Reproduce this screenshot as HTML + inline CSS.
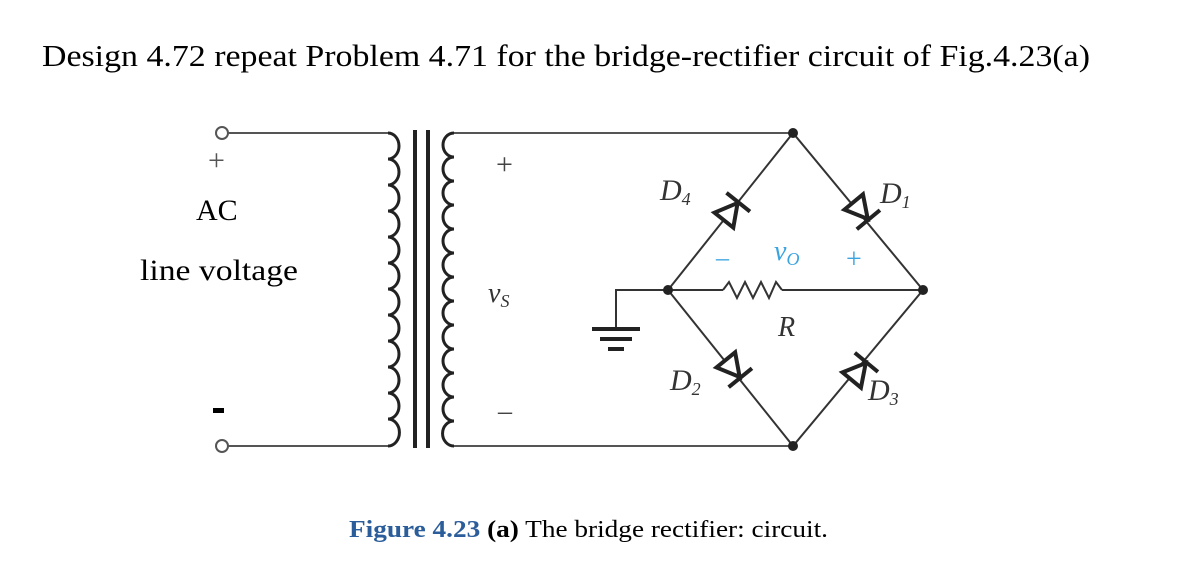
<!DOCTYPE html>
<html><head><meta charset="utf-8"><style>
body{margin:0;background:#fff;}
svg{display:block}
</style></head><body>
<svg width="1180" height="580" viewBox="0 0 1180 580" xmlns="http://www.w3.org/2000/svg" font-family="Liberation Serif, serif">
<text x="42" y="66" font-size="31" fill="#000" textLength="1048" lengthAdjust="spacingAndGlyphs">Design 4.72 repeat Problem 4.71 for the bridge-rectifier circuit of Fig.4.23(a)</text>
<g stroke="#555" stroke-width="2" fill="none">
<circle cx="222" cy="133" r="6" fill="#fff"/>
<circle cx="222" cy="446" r="6" fill="#fff"/>
<line x1="228" y1="133" x2="388" y2="133"/>
<line x1="228" y1="446" x2="388" y2="446"/>
<line x1="454" y1="133" x2="793" y2="133"/>
<line x1="454" y1="446" x2="793" y2="446"/>
</g>
<g stroke="#222" stroke-width="3" fill="none">
<path d="M388 133 a11 13 0 0 1 0 26 a11 13 0 0 1 0 26 a11 13 0 0 1 0 26 a11 13 0 0 1 0 26 a11 13 0 0 1 0 26 a11 13 0 0 1 0 26 a11 13 0 0 1 0 26 a11 13 0 0 1 0 26 a11 13 0 0 1 0 26 a11 13 0 0 1 0 26 a11 13 0 0 1 0 26 a11 13 0 0 1 0 27"/>
<path d="M454 133 a11 12 0 0 0 0 24 a11 12 0 0 0 0 24 a11 12 0 0 0 0 24 a11 12 0 0 0 0 24 a11 12 0 0 0 0 24 a11 12 0 0 0 0 24 a11 12 0 0 0 0 24 a11 12 0 0 0 0 24 a11 12 0 0 0 0 24 a11 12 0 0 0 0 24 a11 12 0 0 0 0 24 a11 12 0 0 0 0 24 a11 12 0 0 0 0 25"/>
<line x1="415" y1="130" x2="415" y2="448" stroke-width="4"/>
<line x1="428" y1="130" x2="428" y2="448" stroke-width="4"/>
</g>
<g stroke="#333" stroke-width="2" fill="none">
<polyline points="668,290 793,133 923,290 793,446 668,290"/>
<line x1="668" y1="290" x2="723" y2="290"/>
<polyline points="723,290 729,282 737,298 745,282 753,298 761,282 769,298 776,282 782,290"/>
<line x1="782" y1="290" x2="923" y2="290"/>
<polyline points="668,290 616,290 616,328"/>
</g>
<g fill="#222">
<circle cx="793" cy="133" r="5"/><circle cx="668" cy="290" r="5"/>
<circle cx="923" cy="290" r="5"/><circle cx="793" cy="446" r="5"/>
<rect x="592" y="327" width="48" height="4"/>
<rect x="600" y="337" width="32" height="4"/>
<rect x="608" y="347" width="16" height="4"/>
</g>
<g stroke="#222" stroke-width="4" fill="#fff">
<g transform="translate(732,210) rotate(-51.5)"><polygon points="-13,-12 -13,12 9,0"/><line x1="10" y1="-15" x2="10" y2="15"/></g>
<g transform="translate(862,212) rotate(50.4)"><polygon points="-13,-12 -13,12 9,0"/><line x1="10" y1="-15" x2="10" y2="15"/></g>
<g transform="translate(734,370) rotate(51)"><polygon points="-13,-12 -13,12 9,0"/><line x1="10" y1="-15" x2="10" y2="15"/></g>
<g transform="translate(860,370) rotate(-50.4)"><polygon points="-13,-12 -13,12 9,0"/><line x1="10" y1="-15" x2="10" y2="15"/></g>
</g>
<g fill="#000" font-size="26">
<text x="208" y="170" font-size="30" fill="#555">+</text>
<text x="196" y="220" font-size="30">AC</text>
<text x="140" y="280" font-size="30" textLength="158" lengthAdjust="spacingAndGlyphs">line voltage</text>
<rect x="213" y="408" width="11" height="5"/>
<text x="496" y="174" font-size="30" fill="#444">+</text>
<text x="498" y="420" font-size="28" fill="#444">–</text>
<text x="488" y="302" font-style="italic" font-size="28" fill="#333">v<tspan font-size="18" dy="5">S</tspan></text>
<text x="660" y="200" font-style="italic" font-size="30" fill="#333">D<tspan font-size="18" dy="5">4</tspan></text>
<text x="880" y="203" font-style="italic" font-size="30" fill="#333">D<tspan font-size="18" dy="5">1</tspan></text>
<text x="670" y="390" font-style="italic" font-size="30" fill="#333">D<tspan font-size="18" dy="5">2</tspan></text>
<text x="868" y="400" font-style="italic" font-size="30" fill="#333">D<tspan font-size="18" dy="5">3</tspan></text>
<text x="778" y="336" font-style="italic" font-size="28" fill="#333">R</text>
<g fill="#3aa4e0">
<text x="716" y="266" font-size="26">–</text>
<text x="846" y="268" font-size="28">+</text>
<text x="774" y="260" font-style="italic" font-size="28">v<tspan font-size="18" dy="5">O</tspan></text>
</g>
<text x="349" y="537" font-size="24" textLength="479" lengthAdjust="spacingAndGlyphs"><tspan fill="#2a5d9a" font-weight="bold">Figure 4.23</tspan><tspan font-weight="bold"> (a)</tspan> The bridge rectifier: circuit.</text>
</g>
</svg>
</body></html>
